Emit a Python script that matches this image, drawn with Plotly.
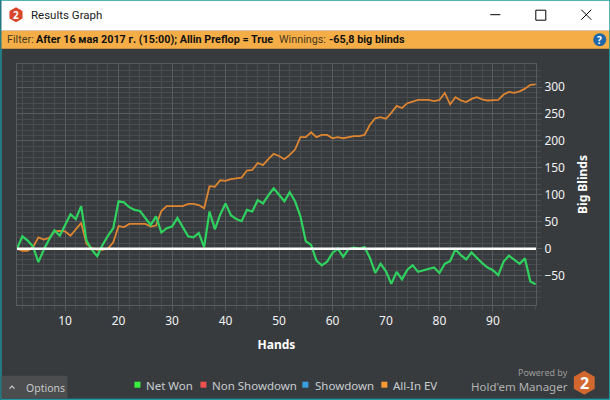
import plotly.graph_objects as go

hands = list(range(1, 99))
net_won = [0, 23, 15, 4, -25, -2, 17, 34, 24, 44, 64, 55, 79, 15, -2, -14, 7, 24, 38, 88,
           86, 77, 72, 70, 58, 44, 60, 30, 38, 41, 57, 40, 23, 21, 29, 3, 69, 36, 63, 84,
           62, 55, 51, 72, 69, 90, 84, 99, 112, 100, 88, 105, 88, 60, 14, 7, -22, -31, -24, -8,
           0, -15, -1, 2, 0, 3, -17, -45, -28, -42, -65, -43, -57, -39, -31, -43, -40, -38, -35, -45,
           -28, -23, -1, -12, -20, -7, -17, -27, -35, -40, -49, -24, -13, -20, -28, -18, -61, -66]
all_in_ev = [0, -4, -4, 3, 21, 17, 20, 32, 33, 32, 24, 35, 48, 9, 1, -2, -2, 0, 12, 42,
             40, 46, 46, 46, 46, 41, 43, 70, 79, 79, 79, 79, 83, 83, 81, 75, 116, 115, 127, 126,
             129, 131, 132, 145, 146, 159, 155, 166, 176, 172, 166, 174, 184, 207, 207, 216, 207, 211, 211, 205,
             207, 205, 207, 209, 209, 211, 230, 242, 244, 241, 252, 265, 261, 270, 273, 276, 276, 276, 274, 276,
             289, 268, 281, 275, 272, 278, 281, 277, 275, 275, 276, 286, 291, 289, 292, 297, 304, 305]
non_showdown = [-1] * 98
showdown = [0] * 98

x_range = [1, 98.06]
y_range = [-104.5, 342.7]
y_ticks = [-50, 0, 50, 100, 150, 200, 250, 300]
y_minor = [v for v in range(-90, 331, 10) if v % 50 != 0]
legend_names = ["Net Won", "Non Showdown", "Showdown", "All-In EV"]
legend_colors = ["#39f03f", "#f0504f", "#3a9fe0", "#f79a32"]
filter_parts = [("Filter:", False), ("After 16 мая 2017 г. (15:00); Allin Preflop = True", True),
                ("Winnings:", False), ("-65,8 big blinds", True)]

W, H = 610, 400
L_, R_, T_, B_ = 16.5, 535.7, 64.3, 305.3
FONT = "Noto Sans"
BG = "#373b3e"
def px(v): return (v - L_) / (R_ - L_)
def py(v): return 1 - (v - T_) / (B_ - T_)

shapes, annos = [], []
def rect(x0, y0, x1, y1, fill, layer="below"):
    shapes.append(dict(type="rect", xref="paper", yref="paper", x0=px(x0), x1=px(x1), y0=py(y0), y1=py(y1),
                       fillcolor=fill, line_width=0, layer=layer))
def path(d, line=None, fill=None, width=1, layer="above"):
    shapes.append(dict(type="path", xref="paper", yref="paper", path=d, fillcolor=fill or "rgba(0,0,0,0)",
                       line=dict(color=line or "rgba(0,0,0,0)", width=width if line else 0), layer=layer))
def P(*pts):
    return "M" + " L".join(f"{px(a):.5f},{py(b):.5f}" for a, b in pts) + " Z"
def Ln(*pts):
    return "M" + " L".join(f"{px(a):.5f},{py(b):.5f}" for a, b in pts)
def text(x, y, s, size=12, color="#e8e8e8", anchor="left", bold=False, family=FONT):
    annos.append(dict(xref="paper", yref="paper", x=px(x), y=py(y), text=f"<b>{s}</b>" if bold else s,
                      showarrow=False, xanchor=anchor, yanchor="middle",
                      font=dict(family=family, size=size, color=color), borderpad=0, align="left"))
def hexagon(cx, cy, r, fill):
    path(P((cx, cy - r), (cx + r * .87, cy - r * .5), (cx + r * .87, cy + r * .5), (cx, cy + r),
           (cx - r * .87, cy + r * .5), (cx - r * .87, cy - r * .5)), fill=fill)

# window chrome
rect(0, 0, W, H, "#14b8c6")
rect(1, 1, W - 1, H - 1, BG)
rect(1, 1, W - 1, 31, "#ffffff")
rect(1, 31, W - 1, 49, "#f5ae47")
hexagon(15.5, 15, 7.5, "#d8452a")
text(15.5, 15, "2", 10, "#ffffff", "center", True)
text(30, 15.5, "Results Graph", 11.5, "#1a1a1a", family="Roboto")
path(Ln((490, 15), (500, 15)), line="#000000")
path(P((535.5, 10.5), (545.5, 10.5), (545.5, 20.5), (535.5, 20.5)), line="#000000")
path(Ln((581, 10), (591, 20)), line="#000000")
path(Ln((591, 10), (581, 20)), line="#000000")

# filter bar
xs = [5, 35, 278, 328]
for (s, b), xx in zip(filter_parts, xs):
    text(xx, 40, s, 10.8, "#111111" if b else "#4a3a1e", "left", b, family="Roboto")
shapes.append(dict(type="circle", xref="paper", yref="paper", x0=px(593), x1=px(606), y0=py(46.5), y1=py(33.5),
                   fillcolor="#1f66a8", line_width=0, layer="above"))
text(599.5, 40, "?", 10, "#ffffff", "center", True)

# options button
rect(1, 376, 67, 399, "#4b4d4f")
path(Ln((9, 389), (11.5, 386.5), (14, 389)), line="#d0d0d0", width=1.2)
text(25, 388, "Options", 10.5, "#c8c8c8")

# legend
legend_sq_x = [134, 200, 302, 381]
legend_tx_x = [145, 211, 314, 392]
for n, c, a, b in zip(legend_names, legend_colors, legend_sq_x, legend_tx_x):
    rect(a, 382, a + 6, 388, c, "above")
    text(b, 385.5, n, 11.5, "#c9cdd0")

# branding
text(568.5, 373, "Powered by", 9, "#9a9a9a", "right")
text(568.5, 387, "Hold'em Manager", 11.5, "#b0b0b0", "right")
hexagon(584, 383, 12, "#d2682f")
text(584, 383, "2", 16, "#ffffff", "center", True)

# white zero line on top of the series
shapes.append(dict(type="line", xref="paper", yref="y", x0=0, x1=1, y0=0, y1=0,
                   line=dict(color="#ffffff", width=2.5), layer="above"))

fig = go.Figure()
fig.add_trace(go.Scatter(x=hands, y=non_showdown, name=legend_names[1], mode="lines",
                         line=dict(color=legend_colors[1], width=1.5)))
fig.add_trace(go.Scatter(x=hands, y=showdown, name=legend_names[2], mode="lines",
                         line=dict(color=legend_colors[2], width=1.5)))
fig.add_trace(go.Scatter(x=hands, y=all_in_ev, name=legend_names[3], mode="lines",
                         line=dict(color="#dd8530", width=1.8)))
fig.add_trace(go.Scatter(x=hands, y=net_won, name=legend_names[0], mode="lines",
                         line=dict(color="#2fd25f", width=2.2)))

axis_font = dict(family=FONT, size=12, color="#f2f2f2")
major, minor_c = "#585c5f", "#484c4f"
fig.update_layout(
    width=W, height=H, margin=dict(l=L_, r=W - R_, t=T_, b=H - B_, pad=0), autosize=False, showlegend=False,
    paper_bgcolor=BG, plot_bgcolor=BG, shapes=shapes, annotations=annos,
    xaxis=dict(automargin=False, range=x_range, tick0=0, dtick=10, showgrid=True,
               gridcolor=major, gridwidth=1, zeroline=False, ticks="outside", ticklen=5, tickwidth=1,
               tickcolor=major, tickfont=axis_font, showline=True, linecolor=major, linewidth=1, mirror=True,
               title=dict(text="<b>Hands</b>", font=dict(family=FONT, size=12, color="#ffffff"), standoff=12),
               minor=dict(tick0=0, dtick=2, showgrid=True, gridcolor=minor_c, gridwidth=1,
                          ticks="outside", ticklen=4, tickcolor=minor_c, tickwidth=1)),
    yaxis=dict(automargin=False, range=y_range, side="right", tickmode="array", tickvals=y_ticks, showgrid=True,
               gridcolor=major, gridwidth=1, zeroline=False, ticks="outside", ticklen=5, tickwidth=1,
               tickcolor=major, tickfont=axis_font, showline=True, linecolor=major, linewidth=1, mirror=True,
               title=dict(text="<b>Big Blinds</b>", font=dict(family=FONT, size=12, color="#ffffff"), standoff=14),
               minor=dict(tickmode="array", tickvals=y_minor, showgrid=True, gridcolor=minor_c, gridwidth=1,
                          ticks="outside", ticklen=4, tickcolor=minor_c, tickwidth=1)),
)
fig.write_html("out.html", post_script="document.body.style.margin='0';document.body.style.overflow='hidden';",
               config=dict(displayModeBar=False))
